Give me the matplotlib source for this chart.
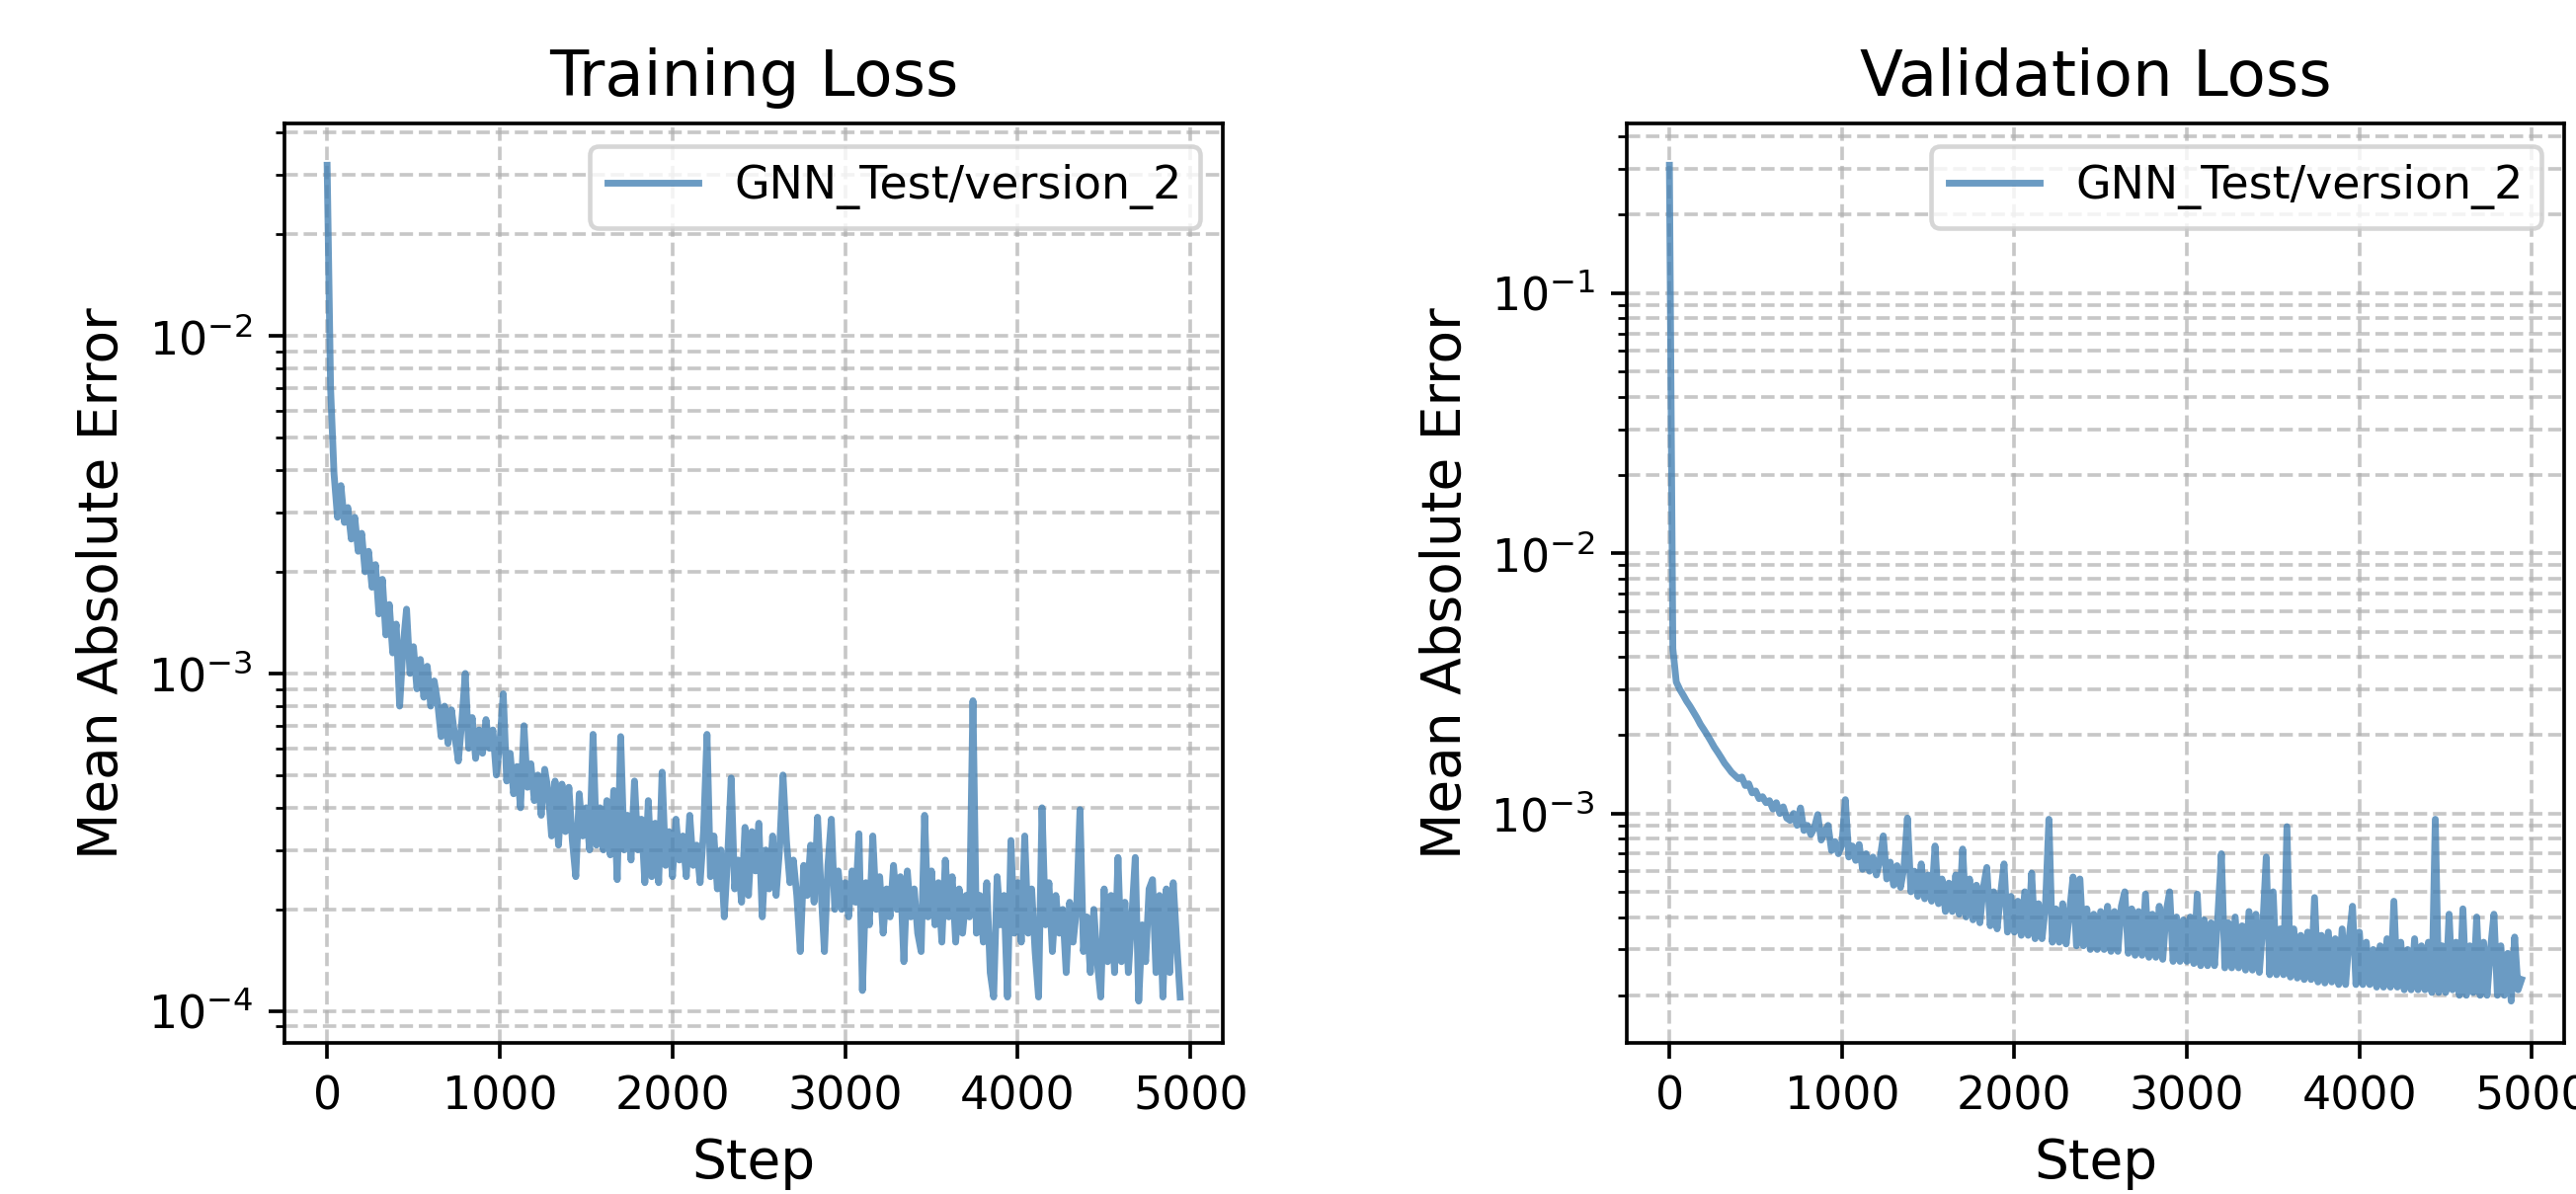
import numpy as np
import matplotlib
matplotlib.use("Agg")
import matplotlib.pyplot as plt

# ---- data ----
log_every = 20  # steps between logged points

train_mae = [
    3.2e-2, 7.0e-3, 3.9e-3, 2.9e-3, 3.6e-3, 2.8e-3, 3.1e-3, 2.5e-3, 2.9e-3, 2.3e-3,
    2.6e-3, 2.0e-3, 2.3e-3, 1.8e-3, 2.1e-3, 1.5e-3, 1.9e-3, 1.3e-3, 1.6e-3, 1.15e-3,
    1.4e-3, 8.0e-4, 1.2e-3, 1.55e-3, 1.0e-3, 1.2e-3, 9.0e-4, 1.1e-3, 8.5e-4, 1.05e-3,
    8.0e-4, 9.5e-4, 8.2e-4, 6.5e-4, 8.0e-4, 6.2e-4, 7.8e-4, 6.5e-4, 5.5e-4, 7.2e-4,
    1.0e-3, 6.0e-4, 7.4e-4, 5.6e-4, 6.8e-4, 5.8e-4, 7.3e-4, 6.0e-4, 6.8e-4, 5.0e-4,
    6.2e-4, 8.7e-4, 4.8e-4, 5.8e-4, 4.4e-4, 5.3e-4, 4.0e-4, 7.0e-4, 4.6e-4, 5.4e-4,
    4.2e-4, 5.0e-4, 3.8e-4, 5.2e-4, 4.5e-4, 3.3e-4, 4.8e-4, 3.1e-4, 4.7e-4, 3.4e-4,
    4.6e-4, 3.2e-4, 2.5e-4, 4.4e-4, 3.3e-4, 4.0e-4, 3.0e-4, 6.6e-4, 3.1e-4, 4.0e-4,
    3.0e-4, 4.2e-4, 2.9e-4, 4.5e-4, 2.45e-4, 6.5e-4, 3.0e-4, 3.8e-4, 2.8e-4, 4.8e-4,
    3.0e-4, 3.7e-4, 2.4e-4, 4.2e-4, 2.5e-4, 3.6e-4, 2.4e-4, 5.1e-4, 2.7e-4, 3.4e-4,
    2.5e-4, 3.7e-4, 2.8e-4, 3.3e-4, 2.5e-4, 3.8e-4, 2.7e-4, 3.1e-4, 2.4e-4, 3.4e-4,
    6.6e-4, 2.5e-4, 3.3e-4, 2.3e-4, 3.0e-4, 1.9e-4, 2.9e-4, 4.9e-4, 2.3e-4, 2.8e-4,
    2.1e-4, 3.5e-4, 2.2e-4, 3.4e-4, 2.6e-4, 3.6e-4, 1.9e-4, 3.0e-4, 2.3e-4, 3.3e-4,
    2.2e-4, 3.0e-4, 5.0e-4, 3.2e-4, 2.4e-4, 2.8e-4, 2.2e-4, 1.5e-4, 2.7e-4, 2.2e-4,
    3.1e-4, 2.1e-4, 3.75e-4, 2.3e-4, 1.5e-4, 2.7e-4, 3.7e-4, 2.0e-4, 2.6e-4, 2.0e-4,
    2.4e-4, 1.9e-4, 2.6e-4, 2.1e-4, 3.35e-4, 1.15e-4, 2.4e-4, 1.8e-4, 3.3e-4, 2.0e-4,
    2.5e-4, 1.7e-4, 2.3e-4, 1.9e-4, 2.7e-4, 2.0e-4, 2.5e-4, 1.4e-4, 2.6e-4, 1.9e-4,
    2.3e-4, 1.7e-4, 1.5e-4, 3.8e-4, 1.9e-4, 2.6e-4, 1.8e-4, 2.4e-4, 1.6e-4, 2.8e-4,
    1.9e-4, 2.5e-4, 1.6e-4, 2.3e-4, 1.7e-4, 2.2e-4, 1.9e-4, 8.3e-4, 1.7e-4, 2.2e-4,
    1.6e-4, 2.4e-4, 1.3e-4, 1.1e-4, 2.5e-4, 1.8e-4, 2.2e-4, 1.1e-4, 3.2e-4, 1.7e-4,
    2.4e-4, 1.6e-4, 3.3e-4, 1.7e-4, 2.3e-4, 1.5e-4, 1.1e-4, 4.0e-4, 1.8e-4, 2.4e-4,
    1.5e-4, 2.2e-4, 1.7e-4, 2.0e-4, 1.3e-4, 2.1e-4, 1.6e-4, 2.0e-4, 3.95e-4, 1.5e-4,
    1.9e-4, 1.3e-4, 2.0e-4, 1.4e-4, 1.1e-4, 2.3e-4, 1.4e-4, 2.2e-4, 1.3e-4, 2.85e-4,
    1.4e-4, 2.1e-4, 1.3e-4, 1.9e-4, 2.85e-4, 1.07e-4, 1.8e-4, 1.4e-4, 2.3e-4, 2.45e-4,
    1.3e-4, 2.2e-4, 1.1e-4, 2.3e-4, 1.3e-4, 2.4e-4, 1.6e-4, 1.1e-4,
]

val_mae = [
    3.1e-1, 4.3e-3, 3.2e-3, 3.0e-3, 2.85e-3, 2.7e-3, 2.58e-3, 2.45e-3, 2.33e-3, 2.2e-3,
    2.1e-3, 2.0e-3, 1.9e-3, 1.8e-3, 1.72e-3, 1.64e-3, 1.56e-3, 1.5e-3, 1.44e-3, 1.4e-3,
    1.36e-3, 1.38e-3, 1.28e-3, 1.3e-3, 1.2e-3, 1.22e-3, 1.14e-3, 1.16e-3, 1.1e-3, 1.12e-3,
    1.04e-3, 1.1e-3, 1.0e-3, 1.06e-3, 9.6e-4, 9.4e-4, 1.0e-3, 9.0e-4, 1.05e-3, 8.6e-4,
    9.0e-4, 8.3e-4, 8.8e-4, 9.9e-4, 7.9e-4, 8.5e-4, 9.0e-4, 7.2e-4, 7.8e-4, 7.0e-4,
    7.6e-4, 1.13e-3, 6.8e-4, 7.5e-4, 6.6e-4, 7.6e-4, 6.1e-4, 7.0e-4, 6.0e-4, 6.8e-4,
    5.8e-4, 6.6e-4, 8.2e-4, 5.6e-4, 6.5e-4, 5.3e-4, 6.3e-4, 5.2e-4, 6.2e-4, 9.6e-4,
    5.0e-4, 6.0e-4, 4.8e-4, 6.4e-4, 4.7e-4, 5.8e-4, 4.6e-4, 7.5e-4, 4.5e-4, 5.6e-4,
    4.2e-4, 5.4e-4, 4.2e-4, 5.8e-4, 4.1e-4, 7.3e-4, 4.0e-4, 5.6e-4, 3.9e-4, 5.3e-4,
    3.8e-4, 5.2e-4, 6.2e-4, 3.7e-4, 5.0e-4, 3.6e-4, 4.9e-4, 6.4e-4, 3.5e-4, 4.8e-4,
    3.5e-4, 4.6e-4, 3.4e-4, 5.0e-4, 3.4e-4, 5.9e-4, 3.3e-4, 4.5e-4, 3.3e-4, 4.4e-4,
    9.5e-4, 3.2e-4, 4.3e-4, 3.2e-4, 4.5e-4, 3.15e-4, 4.2e-4, 5.7e-4, 3.1e-4, 5.6e-4,
    3.1e-4, 4.3e-4, 3.0e-4, 4.1e-4, 3.0e-4, 4.2e-4, 3.0e-4, 4.4e-4, 2.95e-4, 4.2e-4,
    2.95e-4, 4.4e-4, 5.0e-4, 2.9e-4, 4.3e-4, 2.85e-4, 4.2e-4, 2.85e-4, 4.9e-4, 2.8e-4,
    4.1e-4, 2.8e-4, 4.4e-4, 2.75e-4, 4.2e-4, 5.0e-4, 2.7e-4, 4.0e-4, 2.7e-4, 3.9e-4,
    2.7e-4, 4.0e-4, 2.65e-4, 4.9e-4, 2.6e-4, 3.9e-4, 2.6e-4, 3.8e-4, 2.6e-4, 4.1e-4,
    7.0e-4, 2.55e-4, 3.8e-4, 2.55e-4, 4.0e-4, 2.55e-4, 3.7e-4, 2.5e-4, 4.2e-4, 2.5e-4,
    4.1e-4, 2.45e-4, 3.7e-4, 6.8e-4, 2.4e-4, 5.0e-4, 2.4e-4, 3.6e-4, 2.4e-4, 8.9e-4,
    2.35e-4, 3.6e-4, 2.33e-4, 3.4e-4, 2.3e-4, 3.5e-4, 2.3e-4, 4.75e-4, 2.25e-4, 3.4e-4,
    2.23e-4, 3.5e-4, 2.25e-4, 3.3e-4, 2.2e-4, 3.6e-4, 2.2e-4, 3.3e-4, 4.4e-4, 2.2e-4,
    3.5e-4, 2.2e-4, 3.2e-4, 2.2e-4, 3.0e-4, 2.15e-4, 3.1e-4, 2.15e-4, 3.3e-4, 2.15e-4,
    4.6e-4, 2.15e-4, 3.2e-4, 2.1e-4, 3.0e-4, 2.1e-4, 3.3e-4, 2.1e-4, 3.1e-4, 2.1e-4,
    3.2e-4, 2.05e-4, 9.5e-4, 2.05e-4, 3.1e-4, 2.05e-4, 4.1e-4, 2.1e-4, 3.2e-4, 2.0e-4,
    4.3e-4, 2.0e-4, 3.1e-4, 2.05e-4, 4.0e-4, 2.0e-4, 3.2e-4, 2.0e-4, 3.0e-4, 4.1e-4,
    2.0e-4, 3.1e-4, 2.0e-4, 2.9e-4, 1.9e-4, 3.35e-4, 2.1e-4, 2.3e-4,
]

series_label = "GNN_Test/version_2"
titles = ["Training Loss", "Validation Loss"]
x_label = "Step"
y_label = "Mean Absolute Error"

# ---- figure ----
DPI = 330
fig = plt.figure(figsize=(2608 / DPI, 1209 / DPI), dpi=DPI)
plt.rcParams["font.family"] = ["DejaVu Sans"]

positions = [
    [288 / 2608, 153 / 1209, 950 / 2608, 931 / 1209],
    [1647 / 2608, 153 / 1209, 949 / 2608, 931 / 1209],
]

for pos, title, vals in zip(positions, titles, [train_mae, val_mae]):
    ax = fig.add_axes(pos)
    steps = log_every * np.arange(len(vals))
    ax.plot(steps, vals, color="steelblue", alpha=0.8, linewidth=1.5,
            label=series_label)
    ax.set_yscale("log")
    ax.set_title(title, fontsize=14)
    ax.set_xlabel(x_label, fontsize=12)
    ax.set_ylabel(y_label, fontsize=12)
    ax.tick_params(labelsize=10)
    ax.grid(True, which="both", linestyle="--", alpha=0.7)
    ax.legend(loc="upper right", fontsize=10)

fig.savefig("out.png", dpi=DPI)
